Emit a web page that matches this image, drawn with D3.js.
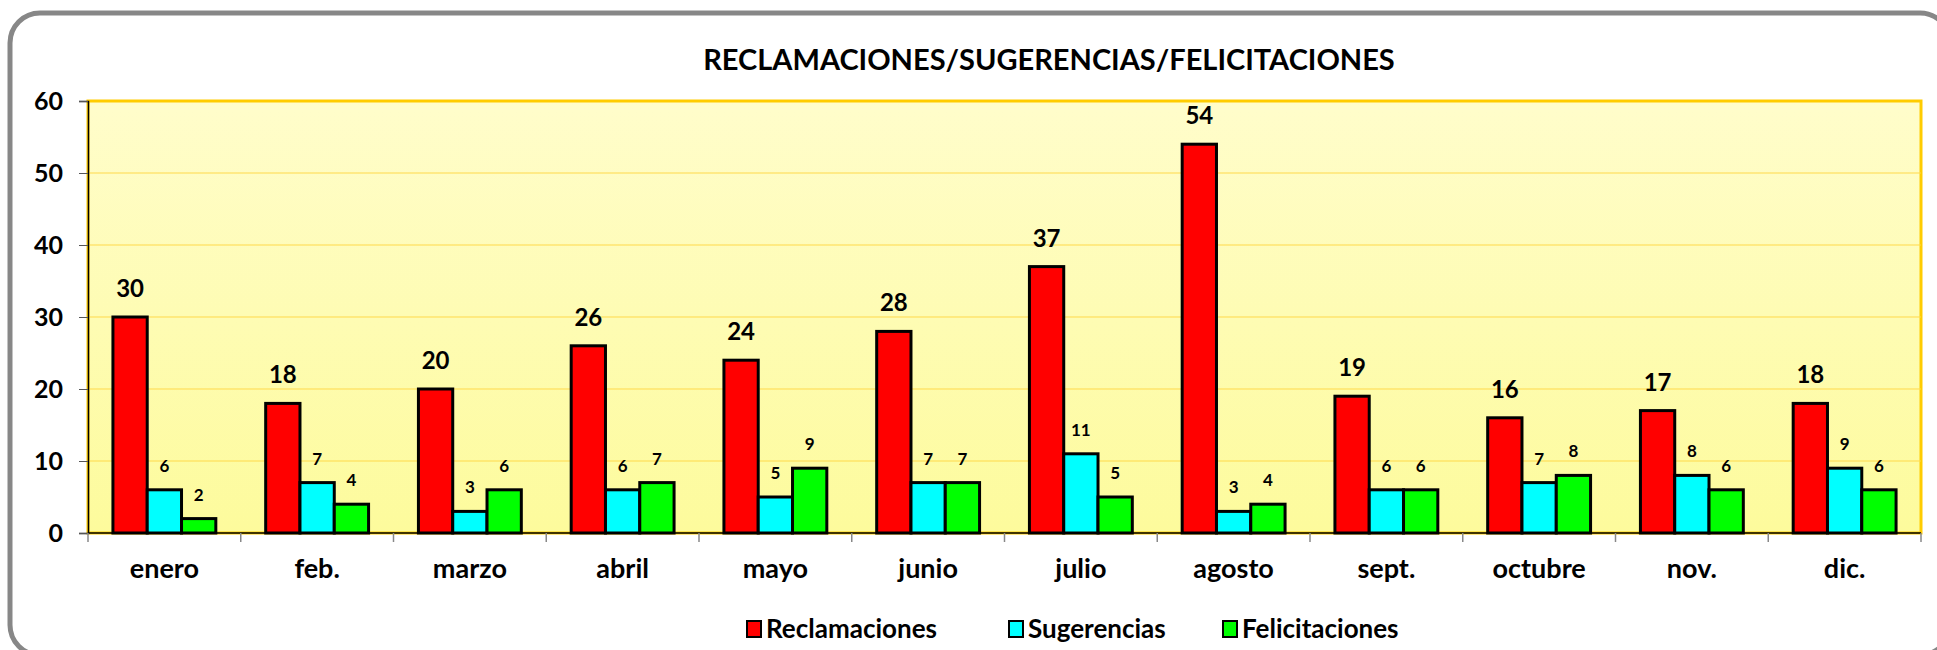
<!DOCTYPE html>
<html>
<head>
<meta charset="utf-8">
<script src="https://cdn.jsdelivr.net/npm/d3@7"></script>
<style>
  html, body { margin: 0; padding: 0; background: #fff; }
  svg { display: block; font-family: Lato, "Open Sans", sans-serif; font-weight: bold; }
</style>
</head>
<body>
<div id="chart"></div>
<script>
// ---- Data ----
const months = ['enero', 'feb.', 'marzo', 'abril', 'mayo', 'junio', 'julio', 'agosto', 'sept.', 'octubre', 'nov.', 'dic.'];
const seriesNames = ['Reclamaciones', 'Sugerencias', 'Felicitaciones'];
const seriesColors = ['#ff0000', '#00ffff', '#00ff00'];
const reclamaciones = [30, 18, 20, 26, 24, 28, 37, 54, 19, 16, 17, 18];
const sugerencias = [6, 7, 3, 6, 5, 7, 11, 3, 6, 7, 8, 9];
const felicitaciones = [2, 4, 6, 7, 9, 7, 5, 4, 6, 8, 6, 6];
const yTicks = [0, 10, 20, 30, 40, 50, 60];
const title = 'RECLAMACIONES/SUGERENCIAS/FELICITACIONES';

const W = 1937, H = 650;
const margin = { top: 101, right: 16, bottom: 117, left: 88 };
const innerWidth = W - margin.left - margin.right;
const innerHeight = H - margin.top - margin.bottom;

const svg = d3.select('#chart').append('svg').attr('width', W).attr('height', H);

// ---- Defs ----
const defs = svg.append('defs');
const bgGrad = defs.append('linearGradient')
  .attr('id', 'plotBg').attr('x1', 0).attr('y1', 0).attr('x2', 0).attr('y2', 1);
bgGrad.append('stop').attr('offset', '0%').attr('stop-color', '#fffdcb');
bgGrad.append('stop').attr('offset', '100%').attr('stop-color', '#fdfb9c');

// ---- Outer frame (rounded, slightly past right/bottom edges) ----
svg.append('rect')
  .attr('x', 10).attr('y', 13)
  .attr('width', 1940).attr('height', 642)
  .attr('rx', 30).attr('ry', 30)
  .attr('fill', 'none')
  .attr('stroke', '#878787')
  .attr('stroke-width', 5);

// ---- Title ----
svg.append('text')
  .attr('x', 1049).attr('y', 70)
  .attr('text-anchor', 'middle')
  .attr('font-size', '29px')
  .attr('fill', '#000')
  .text(title);

const g = svg.append('g').attr('transform', `translate(${margin.left},${margin.top})`);

// ---- Scales ----
const x0 = d3.scaleBand().domain(months).range([0, innerWidth]).paddingInner(0).paddingOuter(0);
const x1 = d3.scaleBand().domain(seriesNames).range([0, x0.bandwidth()])
  .paddingInner(0).paddingOuter(0.727);
const y = d3.scaleLinear().domain([0, 60]).range([innerHeight, 0]);

// ---- Plot background ----
g.append('rect')
  .attr('x', 0).attr('y', 0)
  .attr('width', innerWidth).attr('height', innerHeight)
  .attr('fill', 'url(#plotBg)')
  .attr('stroke', '#ffcc00')
  .attr('stroke-width', 3);

// ---- Grid ----
g.append('g')
  .selectAll('line').data(yTicks.slice(1, -1)).join('line')
  .attr('x1', 0).attr('x2', innerWidth)
  .attr('y1', d => y(d)).attr('y2', d => y(d))
  .attr('stroke', '#ffd94a')
  .attr('stroke-width', 1);

// ---- Axes ----
const yAxis = g.append('g')
  .call(d3.axisLeft(y).tickValues(yTicks).tickSize(9).tickPadding(16).tickFormat(d3.format('d')));
yAxis.select('.domain').attr('stroke', '#000').attr('stroke-width', 1.5);
yAxis.selectAll('.tick line').attr('stroke', '#555');
yAxis.selectAll('.tick text')
  .attr('font-size', '25px').attr('font-family', 'Lato, sans-serif')
  .attr('font-weight', 'bold').attr('fill', '#000');

// x axis: ticks at band boundaries
const bounds = months.map(m => x0(m)).concat([innerWidth]);
const xAxisG = g.append('g').attr('transform', `translate(0,${innerHeight})`);
xAxisG.append('line')
  .attr('x1', 0).attr('x2', innerWidth)
  .attr('stroke', '#000').attr('stroke-width', 1.5);
xAxisG.selectAll('.bt').data(bounds).join('line')
  .attr('class', 'bt')
  .attr('x1', d => d).attr('x2', d => d)
  .attr('y1', 0).attr('y2', 9)
  .attr('stroke', '#888').attr('stroke-width', 1.5);
xAxisG.selectAll('.cat').data(months).join('text')
  .attr('class', 'cat')
  .attr('x', d => x0(d) + x0.bandwidth() / 2)
  .attr('y', 45)
  .attr('text-anchor', 'middle')
  .attr('font-size', '27px')
  .text(d => d);

// ---- Bars ----
const table = months.map((m, i) => ({
  month: m,
  values: [reclamaciones[i], sugerencias[i], felicitaciones[i]]
}));

const groups = g.selectAll('.grp').data(table).join('g')
  .attr('class', 'grp')
  .attr('transform', d => `translate(${x0(d.month)},0)`);

groups.selectAll('rect')
  .data(d => d.values.map((v, k) => ({ key: seriesNames[k], value: v, k })))
  .join('rect')
  .attr('x', d => x1(d.key))
  .attr('width', x1.bandwidth())
  .attr('y', d => y(d.value))
  .attr('height', d => innerHeight - y(d.value))
  .attr('fill', d => seriesColors[d.k])
  .attr('stroke', '#000')
  .attr('stroke-width', 3);

// Value labels
groups.selectAll('.val')
  .data(d => d.values.map((v, k) => ({ key: seriesNames[k], value: v, k })))
  .join('text')
  .attr('class', 'val')
  .attr('x', d => x1(d.key) + x1.bandwidth() / 2)
  .attr('y', d => y(d.value) - (d.k === 0 ? 20 : 18))
  .attr('text-anchor', 'middle')
  .attr('font-size', d => d.k === 0 ? '24px' : '17px')
  .text(d => d.value);

// ---- Legend ----
const legendX = [747, 1009, 1223];
const legend = svg.append('g');
const li = legend.selectAll('g').data(seriesNames).join('g')
  .attr('transform', (d, i) => `translate(${legendX[i]},629)`);
li.append('rect')
  .attr('x', 0).attr('y', -8)
  .attr('width', 14).attr('height', 16)
  .attr('fill', (d, i) => seriesColors[i])
  .attr('stroke', '#000').attr('stroke-width', 2);
li.append('text')
  .attr('x', 19).attr('y', 9)
  .attr('font-size', '26px')
  .text(d => d);
</script>
</body>
</html>
